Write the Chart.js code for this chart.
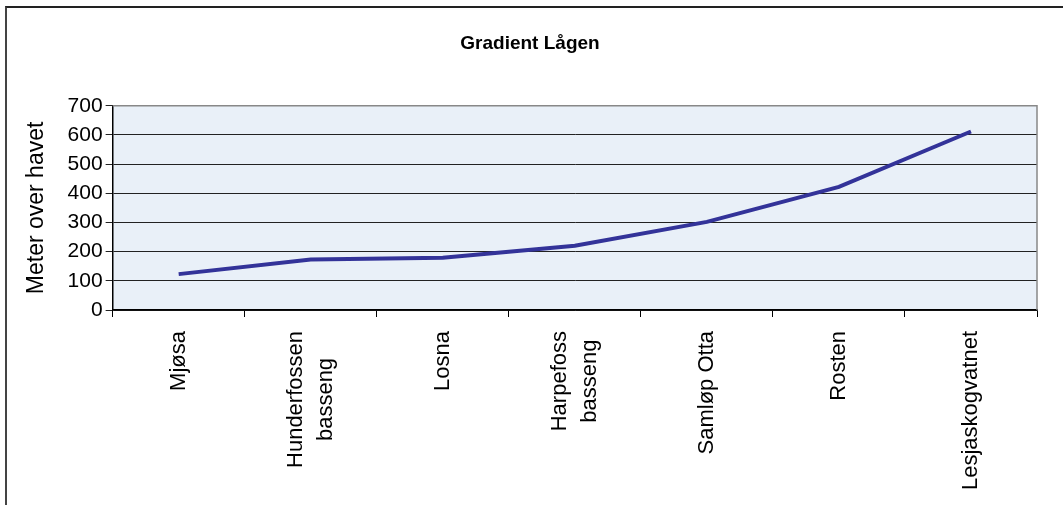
<!DOCTYPE html>
<html>
<head>
<meta charset="utf-8">
<script src="https://cdn.jsdelivr.net/npm/chart.js@4"></script>
<style>
    body { margin: 0; background: #fff; overflow: hidden; }
    #wrap { position: relative; width: 1063px; height: 505px; }
    #myChart { position: absolute; left: 0; top: 0; }
    #frame {
        position: absolute; left: 5px; top: 6px; width: 1056px; height: 600px;
        border-left: 2px solid #444; border-top: 2px solid #222; border-right: 1px solid #999;
        pointer-events: none;
    }
</style>
</head>
<body>
<div id="wrap">
    <canvas id="myChart" width="1063" height="505"></canvas>
    <div id="frame"></div>
</div>
<script>
const places = [
    ['Mjøsa'],
    ['Hunderfossen', 'basseng'],
    ['Losna'],
    ['Harpefoss', 'basseng'],
    ['Samløp Otta'],
    ['Rosten'],
    ['Lesjaskogvatnet']
];
const heights = [123, 173, 179, 220, 302, 422, 612];
const chartTitle = 'Gradient Lågen';
const yTitle = 'Meter over havet';

const font = 'Arial, "Liberation Sans", sans-serif';

// plot area fill + gray top/right edge like the excel chart
const plotBox = {
    id: 'plotBox',
    beforeDraw(chart) {
        const { ctx, chartArea: a } = chart;
        ctx.save();
        ctx.fillStyle = '#e9f0f8';
        ctx.fillRect(a.left, a.top, a.right - a.left, a.bottom - a.top);
        ctx.restore();
    },
    afterDatasetsDraw(chart) {
        const { ctx, chartArea: a } = chart;
        ctx.save();
        ctx.strokeStyle = '#888';
        ctx.lineWidth = 1.5;
        ctx.beginPath();
        ctx.moveTo(a.left, a.top);
        ctx.lineTo(a.right, a.top);
        ctx.lineTo(a.right, a.bottom);
        ctx.stroke();
        ctx.restore();
    }
};

// vertical category labels, lines centred on each other
const xLabels = {
    id: 'xLabels',
    afterDraw(chart) {
        const { ctx } = chart;
        const xs = chart.scales.x;
        const y0 = chart.chartArea.bottom + 21;
        ctx.save();
        ctx.font = '22px ' + font;
        ctx.fillStyle = '#000';
        ctx.textAlign = 'center';
        ctx.textBaseline = 'middle';
        places.forEach((lines, i) => {
            const x = xs.getPixelForTick(i);
            const w = Math.max(...lines.map(l => ctx.measureText(l).width));
            ctx.save();
            ctx.translate(x, y0 + w / 2);
            ctx.rotate(-Math.PI / 2);
            lines.forEach((l, j) => {
                ctx.fillText(l, 0, (j - (lines.length - 1) / 2) * 30);
            });
            ctx.restore();
        });
        ctx.restore();
    }
};

const ctx = document.getElementById('myChart').getContext('2d');
new Chart(ctx, {
    type: 'line',
    data: {
        labels: places,
        datasets: [{
            data: heights,
            borderColor: '#333399',
            borderWidth: 4,
            pointRadius: 0,
            tension: 0,
            fill: false
        }]
    },
    options: {
        responsive: false,
        animation: false,
        layout: { padding: { left: 23, right: 26, top: 0, bottom: 188 } },
        plugins: {
            legend: { display: false },
            tooltip: { enabled: false },
            title: {
                display: true,
                text: chartTitle,
                color: '#000',
                font: { family: font, size: 19, weight: 'bold' },
                padding: { top: 32, bottom: 51 }
            }
        },
        scales: {
            x: {
                offset: true,
                grid: {
                    offset: true,
                    drawOnChartArea: false,
                    drawTicks: true,
                    tickLength: 7,
                    color: '#000'
                },
                border: { color: '#000', width: 1.5 },
                ticks: { display: false }
            },
            y: {
                min: 0,
                max: 700,
                grid: {
                    color: '#222',
                    lineWidth: 1,
                    tickLength: 7
                },
                border: { color: '#000', width: 1.5 },
                ticks: {
                    stepSize: 100,
                    color: '#000',
                    padding: 3,
                    font: { family: font, size: 21 }
                },
                title: {
                    display: true,
                    text: yTitle,
                    color: '#000',
                    font: { family: font, size: 23 },
                    padding: { top: 0, bottom: 14 }
                }
            }
        }
    },
    plugins: [plotBox, xLabels]
});
</script>
</body>
</html>
